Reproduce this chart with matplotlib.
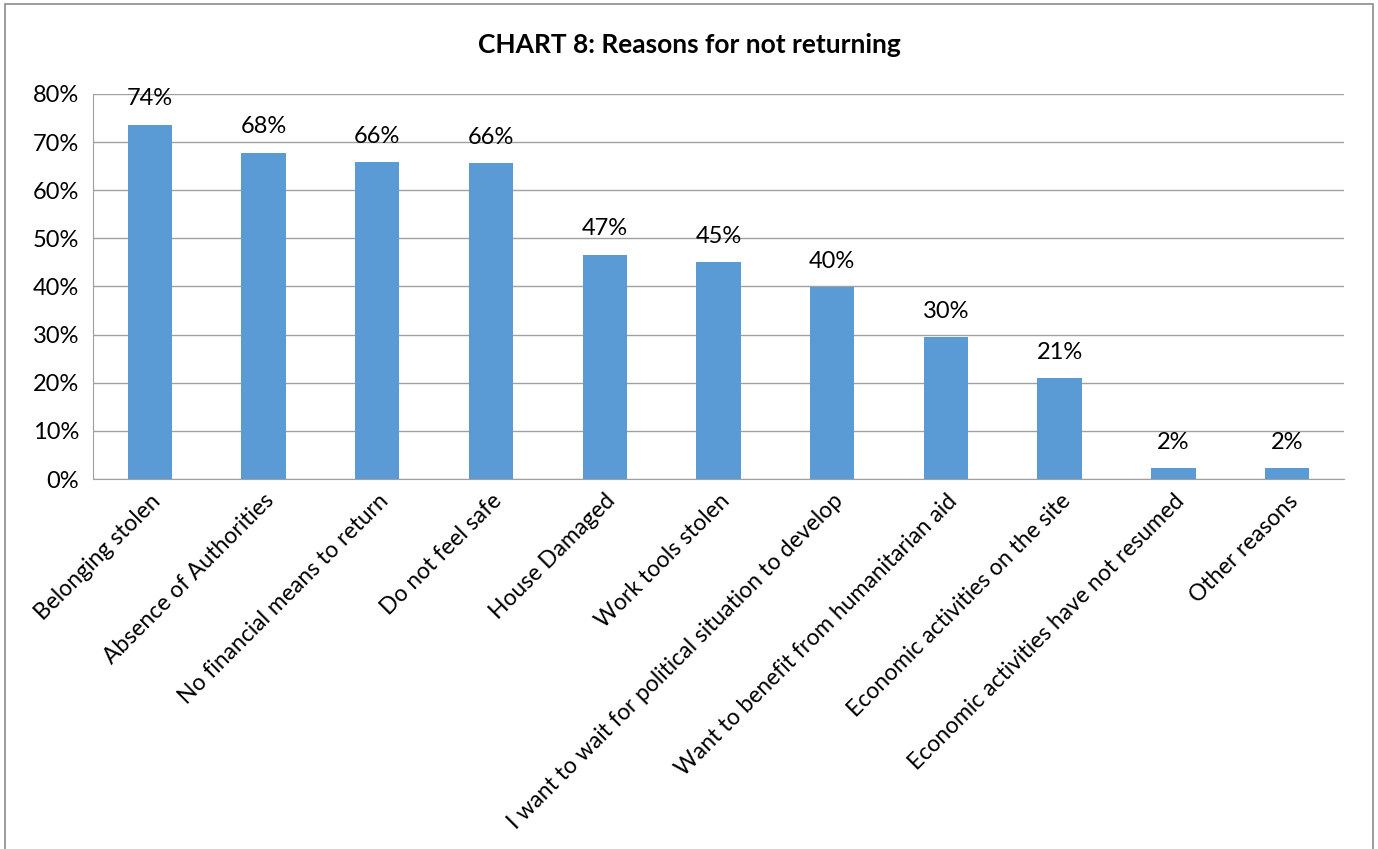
import matplotlib.pyplot as plt
from matplotlib.patches import Rectangle

categories = ["Belonging stolen", "Absence of Authorities", "No financial means to return",
              "Do not feel safe", "House Damaged", "Work tools stolen",
              "I want to wait for political situation to develop",
              "Want to benefit from humanitarian aid", "Economic activities on the site",
              "Economic activities have not resumed", "Other reasons"]
values = [73.6, 67.8, 65.8, 65.6, 46.6, 45.0, 39.9, 29.5, 20.9, 2.2, 2.2]
yticks = [0, 10, 20, 30, 40, 50, 60, 70, 80]

plt.rcParams['font.family'] = ['Lato', 'DejaVu Sans']

fig = plt.figure(figsize=(13.78, 8.49), dpi=100)
ax = fig.add_axes([0.0675, 0.4358, 0.9078, 0.4535])

x = range(len(categories))
ax.bar(x, values, width=0.39, color='#5B9BD5', zorder=2)
for i, v in enumerate(values):
    ax.text(i, v + 3.2, f"{round(v)}%", ha='center', va='bottom', fontsize=17)

ax.set_xlim(-0.5, len(categories) - 0.5)
ax.set_ylim(0, 80)
ax.set_yticks(yticks)
ax.set_yticklabels([f"{t}%" for t in yticks], fontsize=17)
ax.set_xticks(list(x))
ax.set_xticklabels(categories, rotation=45, ha='right', rotation_mode='anchor', fontsize=16.5)
ax.tick_params(axis='y', length=0, pad=10)
ax.tick_params(axis='x', length=0, pad=8)
ax.yaxis.grid(True, color='#a0a0a0', linewidth=1, zorder=0)
for s in ['top', 'right']:
    ax.spines[s].set_visible(False)
ax.spines['left'].set_color('#a0a0a0')
ax.spines['bottom'].set_color('#a0a0a0')

fig.text(0.5, 0.947, "CHART 8: Reasons for not returning", ha='center', va='center',
         fontsize=19, fontweight='bold')

fig.patches.append(Rectangle((5 / 1378, -0.05), 1368 / 1378, 1.05 - 4 / 849,
                             transform=fig.transFigure, fill=False,
                             edgecolor='#8c8c8c', linewidth=1.2))

fig.savefig("out.png", dpi=100)
